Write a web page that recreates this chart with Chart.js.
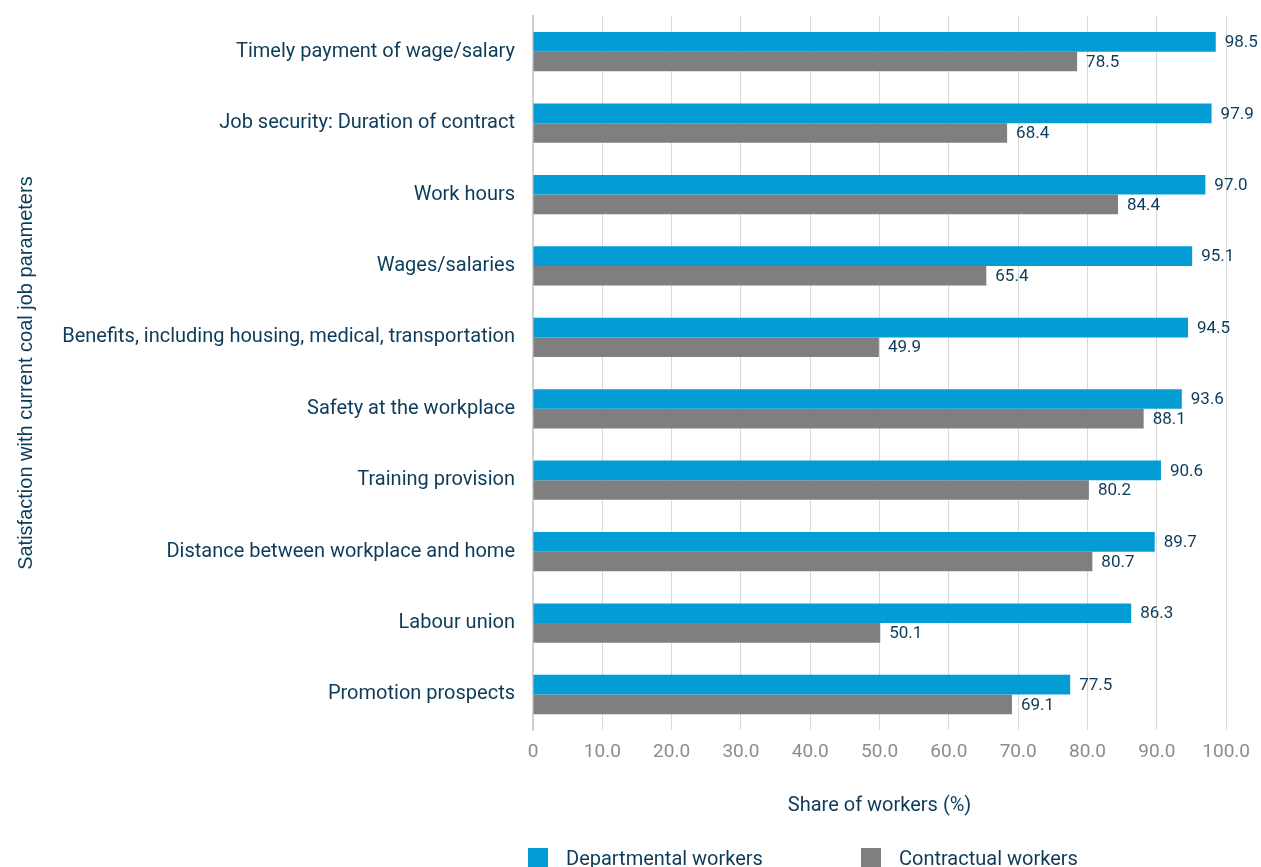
<!DOCTYPE html>
<html>
<head>
<meta charset="utf-8">
<script src="https://cdn.jsdelivr.net/npm/chart.js@4.4.1/dist/chart.umd.min.js"></script>
<style>
  html, body { margin: 0; padding: 0; background: #fff; overflow: hidden; }
  #wrap { position: relative; width: 1261px; height: 867px; overflow: hidden; }
  #barChart { position: absolute; left: 0; top: -6px; }
  #legend { position: absolute; left: 528px; top: 846px; display: flex; font-family: Roboto, sans-serif; font-size: 20px; color: #0d3b5a; }
  .item { display: flex; align-items: center; margin-right: 98px; }
  .sw { width: 20px; height: 20px; margin-right: 18px; }
</style>
</head>
<body>
<div id="wrap">
  <canvas id="barChart" width="1261" height="873"></canvas>
  <div id="legend"></div>
</div>
<script>
    const categories = [
      'Timely payment of wage/salary',
      'Job security: Duration of contract',
      'Work hours',
      'Wages/salaries',
      'Benefits, including housing, medical, transportation',
      'Safety at the workplace',
      'Training provision',
      'Distance between workplace and home',
      'Labour union',
      'Promotion prospects'
    ];
    const departmental = [98.5, 97.9, 97.0, 95.1, 94.5, 93.6, 90.6, 89.7, 86.3, 77.5];
    const contractual = [78.5, 68.4, 84.4, 65.4, 49.9, 88.1, 80.2, 80.7, 50.1, 69.1];
    const xTicks = [0, 10, 20, 30, 40, 50, 60, 70, 80, 90, 100];

    const navy = '#0d3b5a';

    // value labels at the end of each bar
    const barValues = {
      id: 'barValues',
      afterDatasetsDraw(chart) {
        const ctx = chart.ctx;
        ctx.save();
        ctx.font = '17px Roboto, sans-serif';
        ctx.fillStyle = navy;
        ctx.textBaseline = 'middle';
        ctx.textAlign = 'left';
        chart.data.datasets.forEach((ds, i) => {
          chart.getDatasetMeta(i).data.forEach((bar, j) => {
            ctx.fillText(ds.data[j].toFixed(1), bar.x + 9, bar.y + 1);
          });
        });
        ctx.restore();
      }
    };

    const ctxBar = document.getElementById('barChart');
    const chart = new Chart(ctxBar, {
      type: 'bar',
      data: {
        labels: categories,
        datasets: [
          {
            label: 'Departmental workers',
            data: departmental,
            backgroundColor: '#049cd5',
            categoryPercentage: 0.55,
            barPercentage: 1
          },
          {
            label: 'Contractual workers',
            data: contractual,
            backgroundColor: '#7f7f7f',
            categoryPercentage: 0.55,
            barPercentage: 1
          }
        ]
      },
      options: {
        indexAxis: 'y',
        responsive: false,
        animation: false,
        layout: { padding: { top: 1, right: 29, bottom: 45, left: 10 } },
        scales: {
          x: {
            min: 0,
            max: 100,
            afterBuildTicks: (scale) => { scale.ticks = xTicks.map(v => ({ value: v })); },
            grid: { color: '#d9d9d9', drawTicks: false },
            border: { display: false },
            ticks: {
              color: '#8c8c8c',
              padding: 11,
              font: { family: 'Roboto', size: 19 },
              callback: (v) => v === 0 ? '0' : v.toFixed(1)
            },
            title: {
              display: true,
              text: 'Share of workers (%)',
              color: navy,
              font: { family: 'Roboto', size: 20 },
              padding: { top: 19 }
            }
          },
          y: {
            grid: { display: false },
            border: { color: '#d0d0d0', width: 2 },
            afterFit: (scale) => { scale.width = 523; },
            ticks: {
              color: navy,
              padding: 10,
              font: { family: 'Roboto', size: 20 }
            },
            title: {
              display: true,
              text: 'Satisfaction with current coal job parameters',
              color: navy,
              font: { family: 'Liberation Sans', size: 20 }
            }
          }
        },
        plugins: {
          legend: { display: false },
          tooltip: { enabled: false }
        }
      },
      plugins: [barValues]
    });

    const legend = document.getElementById('legend');
    chart.data.datasets.forEach(ds => {
      const item = document.createElement('div');
      item.className = 'item';
      item.innerHTML = '<span class="sw" style="background:' + ds.backgroundColor + '"></span>' + ds.label;
      legend.appendChild(item);
    });
</script>
</body>
</html>
